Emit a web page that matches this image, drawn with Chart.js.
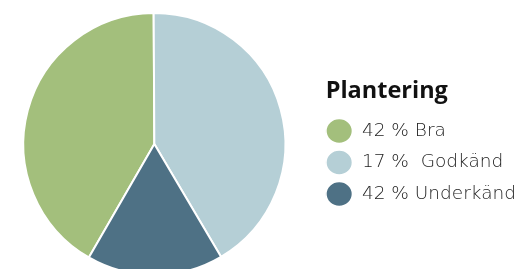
<!DOCTYPE html>
<html>
<head>
<meta charset="utf-8">
<script src="https://cdn.jsdelivr.net/npm/chart.js@4"></script>
<style>
  html, body { margin: 0; padding: 0; background: #fff; overflow: hidden; }
  /* canvas sticks out 17px on the left so the pie sits where it does in the original */
  .wrap { position: relative; margin-left: -17px; width: 539px; height: 288px; }
</style>
</head>
<body>
<div class="wrap"><canvas id="pieChart"></canvas></div>
<script>
// legend texts as printed on the chart
const legendLabels = ['42 % Bra', '17 %  Godkänd', '42 % Underkänd'];
// slice sizes as drawn (percent), same order as the colours below
const sliceValues = [42, 42, 17];
const sliceColors = ['#a3bf7c', '#b5cfd6', '#4e7185'];

const ctx = document.getElementById('pieChart').getContext('2d');
const pieChart = new Chart(ctx, {
    type: 'pie',
    data: {
        // one-line arrays so the legend row height follows the font lineHeight
        labels: legendLabels.map(t => [t]),
        datasets: [{
            data: sliceValues,
            backgroundColor: sliceColors,
            borderColor: '#ffffff',
            borderWidth: 2
        }]
    },
    options: {
        responsive: true,
        maintainAspectRatio: false,
        animation: false,
        rotation: 210, // green slice starts lower left, so light blue begins at 12 o'clock
        layout: {
            padding: { top: 12, bottom: 12, left: 0, right: -4 }
        },
        plugins: {
            tooltip: { enabled: false },
            legend: {
                position: 'right',
                align: 'center',
                title: {
                    display: true,
                    text: 'Plantering',
                    color: '#111111',
                    font: { family: 'Open Sans', size: 23.5, weight: 'bold', lineHeight: 1.2 },
                    padding: { top: 8, bottom: 14 },
                    position: 'start'
                },
                labels: {
                    usePointStyle: true,
                    pointStyle: 'circle',
                    pointStyleWidth: 27,
                    boxHeight: 18,
                    padding: 0,
                    color: '#222222',
                    font: { family: 'DejaVu Sans', size: 18.5, weight: '200', lineHeight: '31.5px' }
                }
            }
        }
    }
});
</script>
</body>
</html>
